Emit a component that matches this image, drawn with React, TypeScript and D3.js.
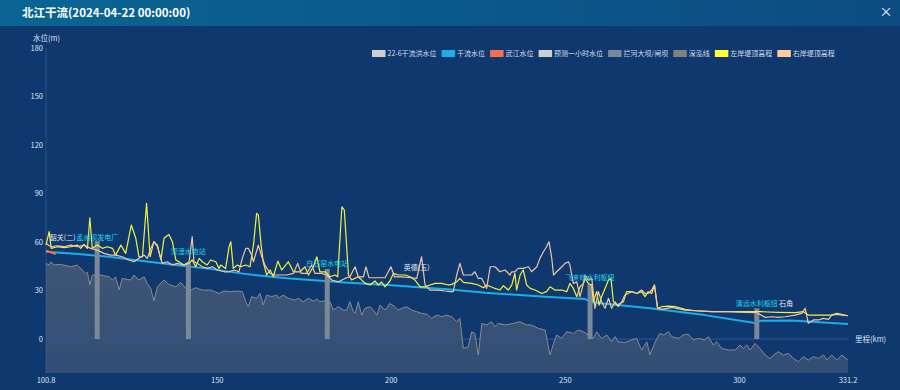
import React, { useEffect, useRef } from 'react'
import * as d3 from 'd3'

const title = '北江干流(2024-04-22 00:00:00)'

const legendNames = ['22-6干流洪水位', '干流水位', '武江水位', '预测一小时水位', '拦河大坝/闸坝', '深泓线', '左岸堤顶高程', '右岸堤顶高程']
const legendColours = ['#cfcfcf', '#1aaeea', '#fa6e50', '#cfcfcf', '#78889a', '#808080', '#ffff33', '#ffcc99']

const xTicks = [100.8, 150, 200, 250, 300, 331.2]
const yTicks = [0, 30, 60, 90, 120, 150, 180]

// [里程 km, 高程 m]
const waterLevel: [number, number][] = [
  [100.8, 54.0], [110, 52.6], [118.9, 50.9], [128, 48.4], [138, 45.8], [148, 43.4], [158.9, 40.0],
  [170, 37.6], [186.7, 35.0], [200, 33.2], [216.9, 30.6], [227, 28.6], [244.2, 26.2], [255.7, 24.7],
  [257.6, 22.8], [265, 21.0], [274.3, 19.0], [290, 14.8], [304.5, 9.9], [305.9, 11.3], [315, 11.5], [331.2, 9.3]
]

const wujiangLevel: [number, number][] = [[100.8, 54.6], [102, 53.8], [103.6, 52.6]]

const thalweg: [number, number][] = [
  [100.8, 46.8], [101.7, 45.8], [102.2, 47.8], [103.1, 45.8], [105.0, 46.2], [107.9, 44.7], [109.8, 45.8],
  [111.2, 42.7], [112.2, 40.6], [112.7, 41.2], [113.4, 33.4], [114.1, 39.6], [116.5, 39.6], [118.9, 38.5],
  [119.9, 36.5], [120.8, 38.5], [121.8, 30.3], [122.7, 37.5], [125.1, 36.5], [126.1, 39.6], [127.5, 36.5],
  [129.0, 38.5], [129.9, 34.4], [130.9, 31.3], [131.8, 23.5], [132.8, 32.3], [134.7, 36.5], [136.1, 33.8],
  [138.1, 32.3], [139.5, 35.0], [141.0, 31.3], [142.4, 30.3], [143.8, 31.7], [145.7, 30.3], [148.1, 30.3],
  [150.5, 28.2], [152.0, 29.7], [153.9, 29.3], [155.8, 29.7], [157.2, 29.3], [158.2, 23.1], [158.9, 20.0],
  [159.9, 26.2], [161.3, 25.2], [162.3, 28.2], [163.2, 21.0], [164.2, 27.2], [165.6, 26.2], [167.1, 27.2],
  [167.5, 25.2], [169.0, 27.2], [170.4, 25.2], [172.3, 24.1], [173.3, 25.2], [174.7, 23.1], [176.2, 25.2],
  [177.6, 23.5], [178.6, 24.7], [179.5, 23.1], [180.5, 23.5], [181.4, 24.1], [182.4, 23.1], [183.3, 17.9],
  [184.8, 20.0], [186.2, 17.9], [187.2, 17.9], [188.1, 23.1], [189.1, 16.9], [189.6, 15.9], [190.5, 23.1],
  [191.5, 14.8], [192.4, 19.0], [193.9, 20.0], [194.8, 17.9], [195.8, 14.8], [196.8, 21.0], [198.2, 17.9],
  [199.6, 22.0], [201.1, 20.0], [202.0, 17.9], [203.0, 19.0], [204.4, 20.0], [205.9, 17.9], [207.3, 16.9],
  [208.7, 15.9], [210.2, 15.3], [211.6, 12.8], [213.0, 14.8], [214.5, 13.8], [215.9, 14.8], [217.4, 13.8],
  [218.8, 10.7], [219.7, 12.8], [220.7, -5.8], [222.1, -4.8], [223.1, 4.5], [224.0, 3.5], [225.0, -9.9],
  [226.0, 9.7], [227.4, 8.7], [228.8, 10.7], [229.8, 7.6], [230.7, 9.7], [232.7, 8.7], [235.1, 9.7],
  [237.0, 10.7], [238.9, 8.7], [240.3, 8.7], [242.2, 6.6], [244.2, 5.6], [245.6, -9.9], [246.6, -2.7],
  [247.5, 2.5], [248.9, 0.4], [250.4, 4.5], [252.3, 3.5], [253.7, 5.6], [255.2, 4.5], [256.6, 2.5],
  [258.0, 0.4], [259.0, 4.5], [260.4, 0.4], [261.9, 2.5], [263.3, -1.7], [264.3, 1.5], [265.2, -1.7],
  [267.1, -2.1], [269.1, -0.6], [270.5, 0.4], [271.9, -6.8], [273.4, -1.7], [274.3, -9.9], [275.8, -1.7],
  [277.2, 3.5], [278.2, 2.5], [279.6, 4.5], [280.6, 1.4], [282.5, 0.4], [283.9, 2.5], [285.3, 3.1],
  [286.8, -0.6], [288.2, 0.4], [290.1, -0.6], [291.1, 1.4], [292.5, -3.7], [293.5, -1.7], [294.9, -5.8],
  [296.8, -6.8], [298.8, -6.8], [300.2, -3.7], [301.1, -5.8], [302.1, -3.7], [303.1, -6.8], [304.5, -2.7],
  [305.9, -5.8], [307.4, -9.9], [308.8, -12.0], [309.8, -9.9], [311.2, -7.8], [312.6, -9.9], [314.1, -8.9],
  [315.5, -12.0], [317.0, -14.0], [318.4, -10.9], [319.8, -13.0], [321.3, -10.9], [322.7, -12.0],
  [324.2, -9.9], [325.1, -13.0], [326.5, -9.9], [328.0, -13.0], [329.4, -9.9], [331.2, -13.0]
]

const leftBank: [number, number][] = [
  [100.8, 58.1], [101.7, 66.4], [102.3, 56.1], [104.0, 57.1], [106.0, 56.5], [107.9, 57.1], [109.8, 58.1],
  [110.8, 56.1], [111.7, 58.6], [112.7, 56.1], [113.4, 75.0], [114.1, 56.1], [115.5, 58.1], [117.0, 56.1],
  [118.4, 57.1], [119.9, 56.1], [120.8, 51.9], [122.3, 58.1], [123.7, 53.0], [125.3, 70.5], [126.6, 62.3],
  [127.5, 50.9], [128.5, 50.9], [129.7, 83.9], [130.7, 50.9], [131.8, 60.2], [132.8, 58.1], [133.8, 48.9],
  [134.7, 62.3], [136.1, 64.7], [137.1, 60.2], [138.1, 48.9], [139.0, 47.8], [140.4, 45.8], [141.9, 46.8],
  [142.8, 48.9], [143.8, 44.7], [144.8, 49.9], [145.7, 47.8], [147.1, 45.8], [148.1, 48.9], [149.6, 47.8],
  [150.5, 43.7], [151.0, 45.8], [152.4, 43.7], [153.4, 57.1], [153.9, 60.2], [154.6, 43.7], [155.8, 45.8],
  [156.7, 44.7], [158.2, 45.8], [159.4, 44.7], [160.4, 58.1], [161.3, 77.7], [161.8, 76.7], [162.6, 58.1],
  [163.2, 47.8], [164.2, 39.6], [165.2, 42.7], [166.1, 38.5], [167.4, 48.2], [168.5, 42.7], [170.4, 47.8],
  [171.9, 41.6], [173.8, 41.6], [175.2, 44.7], [176.2, 39.6], [177.6, 44.7], [178.6, 50.9], [179.5, 41.6],
  [181.0, 41.6], [182.4, 38.5], [183.8, 39.6], [184.6, 38.5], [185.8, 81.8], [186.5, 79.8], [187.7, 39.6],
  [188.6, 36.5], [190.5, 38.5], [192.5, 34.4], [193.9, 33.4], [195.3, 35.9], [196.3, 33.4], [197.2, 35.4],
  [198.2, 32.3], [199.6, 35.9], [200.6, 40.6], [202.0, 39.6], [204.0, 39.6], [205.4, 38.5], [206.8, 36.5],
  [208.3, 32.3], [209.7, 32.3], [211.1, 33.4], [212.6, 34.4], [214.5, 34.4], [216.4, 33.4], [217.4, 33.8],
  [218.8, 35.4], [219.7, 37.5], [220.7, 35.0], [223.1, 34.4], [225.0, 33.4], [226.4, 31.7], [227.4, 33.4],
  [229.8, 31.3], [231.2, 30.3], [232.2, 33.0], [233.6, 30.3], [234.6, 33.4], [235.5, 40.6], [236.0, 30.3],
  [237.0, 39.6], [237.9, 42.7], [238.9, 33.4], [239.9, 31.3], [241.3, 30.3], [243.2, 28.2], [244.6, 29.3],
  [245.6, 32.3], [247.0, 30.3], [249.0, 30.3], [250.4, 29.3], [251.3, 34.4], [252.3, 31.3], [253.3, 26.2],
  [254.2, 32.3], [255.2, 34.4], [255.7, 37.5], [256.6, 34.4], [257.6, 33.4], [258.0, 23.1], [259.0, 29.3],
  [259.7, 21.0], [260.4, 26.2], [261.4, 31.3], [262.4, 36.5], [263.1, 37.5], [263.8, 23.1], [264.8, 21.0],
  [265.7, 22.0], [266.7, 23.1], [267.6, 29.3], [269.1, 29.3], [270.5, 28.2], [271.9, 29.3], [272.9, 26.2],
  [273.8, 29.3], [274.8, 28.2], [275.6, 33.4], [276.5, 19.0], [277.7, 20.0], [279.6, 20.4], [281.5, 20.0],
  [284.4, 18.4], [287.3, 17.5], [292.1, 16.9], [296.8, 16.9], [301.6, 16.9], [306.4, 16.9], [311.2, 16.5],
  [316.0, 16.3], [318.4, 16.9], [319.8, 14.8], [322.7, 14.8], [326.5, 14.8], [328.0, 15.9], [331.2, 14.4]
]

const rightBank: [number, number][] = [
  [100.8, 59.2], [102.2, 57.1], [104.0, 57.7], [106.0, 57.1], [107.9, 58.1], [109.8, 57.1], [111.7, 58.1],
  [113.6, 56.1], [115.5, 55.0], [117.5, 53.0], [119.4, 51.9], [120.8, 51.9], [122.7, 50.9], [124.6, 48.9],
  [126.1, 47.8], [127.5, 49.9], [129.0, 51.9], [129.9, 49.9], [130.9, 56.1], [131.8, 60.2], [132.8, 57.1],
  [133.8, 49.9], [134.2, 46.8], [135.6, 47.8], [137.1, 45.8], [138.5, 46.8], [140.4, 45.8], [141.9, 47.8],
  [142.8, 63.3], [143.3, 47.8], [144.3, 46.8], [145.7, 44.7], [147.1, 43.7], [148.6, 44.7], [150.0, 42.7],
  [152.0, 41.6], [153.4, 41.6], [154.8, 42.7], [156.2, 41.6], [157.2, 49.9], [158.2, 56.1], [158.9, 56.1],
  [159.9, 51.9], [160.4, 47.8], [161.8, 58.1], [162.8, 50.9], [163.7, 45.8], [165.2, 40.6], [166.6, 39.6],
  [168.5, 39.6], [170.0, 39.6], [171.9, 40.6], [173.1, 46.8], [174.1, 40.6], [175.7, 40.6], [177.1, 45.8],
  [178.1, 40.6], [180.0, 40.6], [181.4, 39.6], [182.9, 36.5], [184.8, 35.4], [186.7, 37.5], [188.1, 38.5],
  [189.6, 44.7], [190.5, 38.5], [192.0, 38.5], [192.7, 44.7], [193.6, 37.9], [195.3, 37.9], [198.2, 37.9],
  [199.9, 44.7], [200.9, 38.5], [203.0, 38.5], [205.9, 37.9], [207.3, 37.5], [208.7, 50.9], [209.7, 33.4],
  [211.1, 30.3], [213.5, 30.3], [215.4, 29.7], [216.9, 29.3], [217.8, 29.3], [218.8, 39.6], [219.7, 46.8],
  [220.7, 39.6], [222.1, 39.6], [223.1, 39.6], [224.0, 41.6], [225.0, 37.5], [226.0, 37.5], [227.4, 31.3],
  [228.4, 44.7], [229.8, 44.7], [231.2, 41.6], [232.7, 42.7], [234.1, 39.6], [234.6, 41.6], [235.5, 41.6],
  [236.5, 43.7], [237.9, 43.7], [239.4, 44.7], [240.3, 41.6], [241.8, 44.7], [242.7, 49.9], [243.7, 54.0],
  [244.6, 57.1], [245.3, 60.2], [246.1, 49.9], [246.6, 39.6], [247.5, 41.6], [249.0, 44.7], [249.9, 46.8],
  [250.9, 47.8], [251.3, 45.8], [252.3, 34.4], [253.3, 35.4], [254.2, 26.2], [255.2, 34.4], [255.7, 39.6],
  [256.6, 36.5], [257.6, 37.5], [258.5, 19.0], [259.5, 29.3], [260.4, 23.1], [261.4, 19.0], [262.4, 25.2],
  [263.3, 19.0], [264.3, 23.1], [265.2, 20.0], [266.2, 23.1], [267.1, 27.2], [269.1, 29.3], [270.5, 28.2],
  [271.9, 30.3], [272.9, 28.2], [273.8, 28.2], [274.8, 30.3], [275.6, 33.4], [276.5, 19.0], [277.7, 18.4],
  [280.6, 19.6], [284.4, 17.9], [287.3, 17.5], [292.1, 16.9], [296.8, 16.9], [301.6, 16.5], [305.0, 16.3],
  [307.4, 13.4], [309.3, 13.8], [311.2, 13.4], [313.1, 13.8], [316.0, 14.8], [317.9, 15.9], [318.9, 19.0],
  [319.8, 9.7], [321.3, 11.8], [322.7, 11.8], [324.1, 12.8], [325.6, 12.2], [326.5, 14.8], [328.0, 15.3],
  [329.4, 14.8], [331.2, 14.4]
]

// 拦河大坝/闸坝
const damKm = [115.5, 141.7, 181.6, 257.1, 305.0]
const damTop = [60.6, 46.8, 43.3, 34.0, 19.0]

// 站点标注
const stationNames = ['韶关(二)', '孟洲坝发电厂', '濛浬水电站', '白石窑水电站', '英德(五)', '飞来峡水利枢纽', '清远水利枢纽', '石角']
const stationKm = [105.6, 115.5, 141.7, 181.6, 207.3, 257.1, 305.0, 313.4]
const stationLevel = [63.1, 63.1, 54.4, 46.8, 44.1, 38.1, 22.0, 22.0]
const stationIsDam = [false, true, true, true, false, true, true, false]

const font = '"Noto Sans CJK SC", "Microsoft YaHei", sans-serif'

export default function App() {
  const ref = useRef<SVGSVGElement>(null)

  useEffect(() => {
    const W = 900, H = 390
    const plot = { left: 46, right: 848, top: 48, bottom: 373 }
    const svg = d3.select(ref.current)
    svg.selectAll('*').remove()

    const x = d3.scaleLinear().domain([100.8, 331.2]).range([plot.left, plot.right])
    const y = d3.scaleLinear().domain([-21, 180]).range([plot.bottom, plot.top])

    const defs = svg.append('defs')
    const hg = defs.append('linearGradient').attr('id', 'hdr').attr('x1', 0).attr('x2', 1).attr('y1', 0).attr('y2', 0)
    hg.append('stop').attr('offset', 0).attr('stop-color', '#0a6593')
    hg.append('stop').attr('offset', 1).attr('stop-color', '#0c4c81')
    const ag = defs.append('linearGradient').attr('id', 'bed').attr('x1', 0).attr('x2', 0).attr('y1', 0).attr('y2', 1)
    ag.append('stop').attr('offset', 0).attr('stop-color', 'rgba(128,128,128,0.42)')
    ag.append('stop').attr('offset', 1).attr('stop-color', 'rgba(128,128,128,0.3)')

    // background + header
    svg.append('rect').attr('width', W).attr('height', H).attr('fill', '#0f386f')
    svg.append('rect').attr('width', W).attr('height', 26).attr('fill', 'url(#hdr)')
    svg.append('text').attr('x', 22).attr('y', 16.5).text(title)
      .attr('fill', '#fff').attr('font-size', 11.5).attr('font-weight', 'bold').attr('font-family', font)
    svg.append('text').attr('x', 886).attr('y', 16).text('×').attr('text-anchor', 'middle')
      .attr('fill', '#fff').attr('font-size', 13).attr('font-family', font)

    // axes
    const g = svg.append('g')
    g.append('line').attr('x1', plot.left).attr('x2', plot.left).attr('y1', plot.top).attr('y2', plot.bottom)
      .attr('stroke', '#2b5088').attr('stroke-width', 1)
    g.selectAll('.ytick').data(yTicks).enter().append('text')
      .attr('x', plot.left - 3).attr('y', d => y(d) + 2.6).attr('text-anchor', 'end').text(d => d)
      .attr('fill', '#dde4ee').attr('font-size', 7.5).attr('font-family', font)
    g.append('text').attr('x', 33).attr('y', 41).text('水位(m)')
      .attr('fill', '#dde4ee').attr('font-size', 7.5).attr('font-family', font)
    g.selectAll('.xtick').data(xTicks).enter().append('text')
      .attr('x', d => x(d)).attr('y', 383).attr('text-anchor', 'middle').text(d => d)
      .attr('fill', '#dde4ee').attr('font-size', 7.5).attr('font-family', font)

    // 深泓线
    g.append('path').datum(thalweg)
      .attr('d', d3.area<[number, number]>().x(d => x(d[0])).y0(plot.bottom).y1(d => y(d[1])))
      .attr('fill', 'url(#bed)')
    g.append('line').attr('x1', plot.left).attr('x2', plot.right).attr('y1', y(0)).attr('y2', y(0))
      .attr('stroke', '#2a5a92').attr('stroke-width', 1)
    g.append('text').attr('x', 855).attr('y', y(0) + 2.6).text('里程(km)')
      .attr('fill', '#dde4ee').attr('font-size', 7.5).attr('font-family', font)

    const line = d3.line<[number, number]>().x(d => x(d[0])).y(d => y(d[1]))
    const drawLine = (data: [number, number][], colour: string, width: number) =>
      g.append('path').datum(data).attr('d', line).attr('fill', 'none')
        .attr('stroke', colour).attr('stroke-width', width).attr('stroke-linejoin', 'round')

    drawLine(thalweg, '#8a8a8a', 1)
    drawLine(waterLevel, '#1aaeea', 2)
    drawLine(wujiangLevel, '#fa6e50', 2)

    // dams
    g.selectAll('.dam').data(damKm).enter().append('rect')
      .attr('x', d => x(d) - 2.5).attr('width', 5)
      .attr('y', (d, i) => y(damTop[i])).attr('height', (d, i) => y(0) - y(damTop[i]))
      .attr('fill', '#7b8898')

    drawLine(leftBank, '#f2f23c', 1.2)
    drawLine(rightBank, '#f0c4a4', 1.2)

    // station labels
    g.selectAll('.station').data(stationNames).enter().append('text')
      .attr('x', (d, i) => x(stationKm[i])).attr('y', (d, i) => y(stationLevel[i]) + 2.5)
      .attr('text-anchor', 'middle').text(d => d)
      .attr('fill', (d, i) => stationIsDam[i] ? '#22d6ea' : '#e8e8e8')
      .attr('font-size', 7).attr('font-family', font)

    // legend
    const lg = svg.append('g')
    let lx = 372
    legendNames.forEach((name, i) => {
      lg.append('rect').attr('x', lx).attr('y', 50).attr('width', 13.5).attr('height', 7).attr('fill', legendColours[i])
      const t = lg.append('text').attr('x', lx + 15.5).attr('y', 56.3).text(name)
        .attr('fill', '#d6dde8').attr('font-size', 7).attr('font-family', font)
      const w = (t.node() as SVGTextElement).getComputedTextLength()
      lx += 15.5 + w + 5
    })
  }, [])

  return (
    <div style={{ position: 'absolute', left: 0, top: 0 }}>
      <svg ref={ref} width={900} height={390} style={{ display: 'block' }} />
    </div>
  )
}
